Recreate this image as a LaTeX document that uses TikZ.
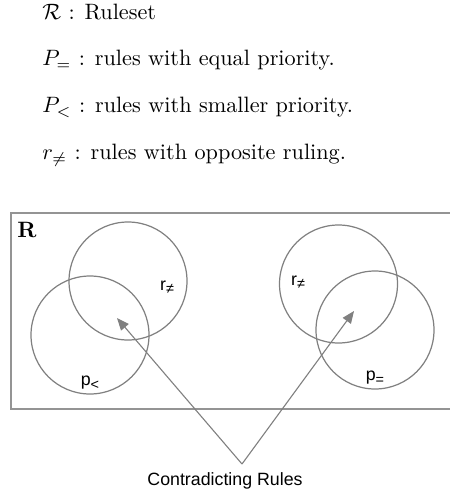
\documentclass[tikz,border=0pt]{standalone}
\usepackage{fontspec}
\newfontfamily\arialf{Liberation Sans}
\usetikzlibrary{arrows.meta}
\begin{document}
\begin{tikzpicture}[x=0.45pt,y=-0.45pt,
  legend/.style={anchor=base west, inner sep=0pt, font=\fontsize{10}{12}\selectfont},
  setc/.style={circle, draw=black!50, line width=0.55pt, minimum size=118*0.45pt, inner sep=0pt},
  setlabel/.style={font=\arialf\fontsize{8}{9}\selectfont, inner sep=0pt},
  pointer/.style={draw=black!50, line width=0.5pt, -{Triangle[length=5.5pt,width=4.5pt]}}]
\useasboundingbox (0,0) rectangle (450,492);
% legend
\node[legend] (l1) at (42,20) {$\mathcal{R}$ : Ruleset};
\node[legend] (l2) at (42,66) {$P_{=}$ : rules with equal priority.};
\node[legend] (l3) at (42,113) {$P_{<}$ : rules with smaller priority.};
\node[legend] (l4) at (42,160) {$r_{\neq}$ : rules with opposite ruling.};
% ruleset box
\draw[draw=black!42, line width=0.8pt] (11,213) rectangle (453,409);
\node[anchor=center, inner sep=0pt, font=\bfseries] (R) at (27,230) {R};
% circles
\node[setc] (c1) at (128,281) {};
\node[setc] (c2) at (90,335) {};
\node[setc] (c3) at (338.5,284) {};
\node[setc] (c4) at (375,330) {};
% set labels
\node[setlabel] (t1) at (167,287) {r\raisebox{-0.35ex}{\fontsize{6.5}{7}\selectfont ≠}};
\node[setlabel] (t2) at (90,383) {p\raisebox{-0.35ex}{\fontsize{6.5}{7}\selectfont <}};
\node[setlabel] (t3) at (298,282) {r\raisebox{-0.35ex}{\fontsize{6.5}{7}\selectfont ≠}};
\node[setlabel] (t4) at (375,378) {p\raisebox{-0.35ex}{\fontsize{6.5}{7}\selectfont =}};
% contradicting rules
\node[setlabel, font=\arialf\fontsize{8}{9}\selectfont] (cr) at (225,481) {Contradicting Rules};
\coordinate (apex) at (242,464);
\coordinate (tipL) at (117,318);
\coordinate (tipR) at (354,311);
\draw[pointer] (apex) -- (tipL);
\draw[pointer] (apex) -- (tipR);
\end{tikzpicture}
\end{document}
